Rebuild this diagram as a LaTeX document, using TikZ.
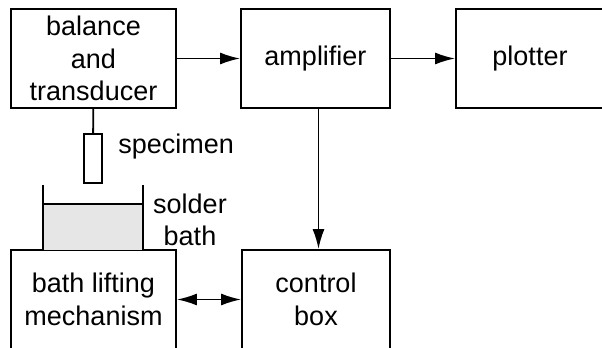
\documentclass[tikz,border=0pt]{standalone}
\usepackage{fontspec}
\setmainfont{Liberation Sans}
\usetikzlibrary{arrows.meta}
\definecolor{bain}{HTML}{E6E6E6}

\begin{document}
\begin{tikzpicture}[x=0.5pt,y=-0.5pt]
\tikzstyle{lien}=[-{Latex[length=10pt,width=6pt]},line width=0.9pt]
\tikzset{bloc/.style={draw,line width=0.9pt,inner sep=0pt,align=center,
  minimum width=#1,minimum height=49.5pt,
  font=\fontsize{13.5pt}{16.25pt}\selectfont},
bloc/.default={74pt}}
\useasboundingbox (0,0) rectangle (602,348);

\node[bloc=82.5pt] (bal) at (93.5,58.5) {balance\\and\\transducer};
\node[bloc=74.5pt] (amp) at (315.5,58.5) {amplifier};
\node[bloc] (plot) at (530,58.5) {plotter};
\node[bloc=82.5pt] (lift) at (93.5,299.5) {bath lifting\\mechanism};
\node[bloc] (ctrl) at (316,299.5) {control\\box};

% echantillon et bain
\node[draw,line width=0.9pt,inner sep=0pt,minimum width=9pt,minimum height=24.5pt] (spec) at (93,158.5) {};
\node[anchor=west,inner sep=0pt,font=\fontsize{13.5pt}{16.25pt}\selectfont] (speclbl) at (118,147) {specimen};
\fill[bain] (43,204) rectangle (143,250);
\draw[line width=0.9pt] (43,185) -- (43,250) (143,185) -- (143,250) (43,204) -- (143,204);
\node[inner sep=0pt,align=center,font=\fontsize{13.5pt}{16.25pt}\selectfont] (bathlbl) at (190,220) {solder\\bath};

\draw[line width=0.9pt] (bal) -- (spec);
\draw[lien] (bal) -- (amp);
\draw[lien] (amp) -- (plot);
\draw[lien] ([xshift=1.5pt]amp.south) -- ([xshift=1.5pt]amp.south |- ctrl.north);
\draw[lien,{Latex[length=10pt,width=6pt]}-{Latex[length=10pt,width=6pt]}] (lift) -- (ctrl);

\end{tikzpicture}
\end{document}
